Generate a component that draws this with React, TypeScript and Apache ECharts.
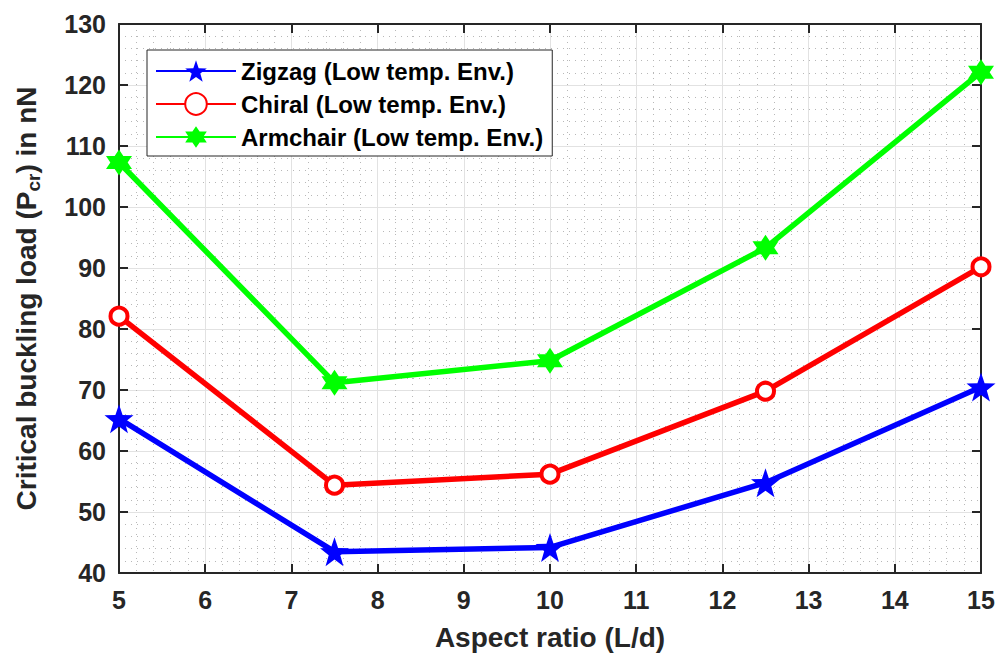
import React, { useEffect, useRef } from "react";
import * as echarts from "echarts";

const aspectRatio = [5, 7.5, 10, 12.5, 15];
const zigzag = [65.3, 43.5, 44.2, 54.8, 70.5];
const chiral = [82.1, 54.4, 56.2, 69.8, 90.2];
const armchair = [107.3, 71.2, 74.8, 93.3, 122.1];
const seriesNames = [
  "Zigzag (Low temp. Env.)",
  "Chiral (Low temp. Env.)",
  "Armchair (Low temp. Env.)",
];

function starPath(points: number, rOut: number, rIn: number): string {
  const c = rOut;
  const pts: string[] = [];
  for (let i = 0; i < points * 2; i++) {
    const r = i % 2 === 0 ? rOut : rIn;
    const a = -Math.PI / 2 + (i * Math.PI) / points;
    pts.push(`${(c + r * Math.cos(a)).toFixed(3)} ${(c + r * Math.sin(a)).toFixed(3)}`);
  }
  return "path://M" + pts.join(" L") + " Z";
}

const pentagram = starPath(5, 12, 4.8);
const hexagram = starPath(6, 12, 6.93);

const FONT = "Liberation Sans, Arial, sans-serif";
const TXT = "#262626";

export default function App() {
  const ref = useRef<HTMLDivElement>(null);
  useEffect(() => {
    document.body.style.margin = "0";
    const chart = echarts.init(ref.current!, undefined, { renderer: "svg" });
    const pair = (ys: number[]) => aspectRatio.map((x, i) => [x, ys[i]]);
    const axisLine = { show: true, lineStyle: { color: TXT, width: 2 } };
    const tick = { show: true, inside: true, length: 9, lineStyle: { color: TXT, width: 2 } };
    const minorLine = { show: true, lineStyle: { color: "#b8b8b8", width: 1, type: [1, 5] } };
    const majorLine = { show: true, lineStyle: { color: "#e2e2e2", width: 1 } };
    chart.setOption({
      animation: false,
      backgroundColor: "#ffffff",
      grid: { left: 118, right: 18, top: 24, bottom: 83 },
      legend: {
        orient: "vertical",
        left: 147,
        top: 50,
        padding: [9, 9, 7, 8],
        itemGap: 9,
        itemWidth: 80,
        itemHeight: 27,
        backgroundColor: "#ffffff",
        borderColor: TXT,
        borderWidth: 1,
        borderRadius: 0,
        textStyle: { fontFamily: FONT, fontWeight: "bold", fontSize: 24, color: "#000" },
        data: seriesNames,
      },
      xAxis: [
        {
          type: "value",
          min: 5,
          max: 15,
          interval: 1,
          name: "Aspect ratio (L/d)",
          nameLocation: "middle",
          nameGap: 50,
          nameTextStyle: { fontFamily: FONT, fontWeight: "bold", fontSize: 28, color: TXT },
          axisLine,
          axisTick: tick,
          axisLabel: { margin: 14, fontFamily: FONT, fontWeight: "bold", fontSize: 25, color: TXT },
          splitLine: majorLine,
          minorTick: { show: false, splitNumber: 5 },
          minorSplitLine: minorLine,
        },
        {
          type: "value",
          position: "top",
          min: 5,
          max: 15,
          interval: 1,
          axisLine,
          axisTick: tick,
          axisLabel: { show: false },
          splitLine: { show: false },
        },
      ],
      yAxis: [
        {
          type: "value",
          min: 40,
          max: 130,
          interval: 10,
          name: "{a|Critical buckling load (P}{b|cr}{a|) in nN}",
          nameLocation: "middle",
          nameGap: 76,
          nameTextStyle: {
            fontFamily: FONT,
            fontWeight: "bold",
            color: TXT,
            rich: {
              a: { fontFamily: FONT, fontWeight: "bold", fontSize: 28, color: TXT, lineHeight: 34, verticalAlign: "middle" },
              b: { fontFamily: FONT, fontWeight: "bold", fontSize: 19, color: TXT, lineHeight: 34, verticalAlign: "bottom", padding: [16, 0, 0, 0] },
            },
          },
          axisLine,
          axisTick: tick,
          axisLabel: { margin: 13, fontFamily: FONT, fontWeight: "bold", fontSize: 25, color: TXT },
          splitLine: majorLine,
          minorTick: { show: false, splitNumber: 5 },
          minorSplitLine: minorLine,
        },
        {
          type: "value",
          position: "right",
          min: 40,
          max: 130,
          interval: 10,
          axisLine,
          axisTick: tick,
          axisLabel: { show: false },
          splitLine: { show: false },
        },
      ],
      series: [
        {
          name: seriesNames[0],
          type: "line",
          data: pair(zigzag),
          symbol: pentagram,
          symbolSize: [29, 29],
          lineStyle: { color: "#0000ff", width: 5.5 },
          itemStyle: { color: "#0000ff" },
          z: 3,
        },
        {
          name: seriesNames[1],
          type: "line",
          data: pair(chiral),
          symbol: "circle",
          symbolSize: 17,
          lineStyle: { color: "#ff0000", width: 5.5 },
          itemStyle: { color: "#ffffff", borderColor: "#ff0000", borderWidth: 4 },
          z: 3,
        },
        {
          name: seriesNames[2],
          type: "line",
          data: pair(armchair),
          symbol: hexagram,
          symbolSize: 26,
          lineStyle: { color: "#00ff00", width: 5.5 },
          itemStyle: { color: "#00ff00" },
          z: 3,
        },
      ],
    });
    return () => chart.dispose();
  }, []);
  return (
    <div
      ref={ref}
      style={{ position: "absolute", left: 0, top: 0, width: 999, height: 656, background: "#fff" }}
    />
  );
}
